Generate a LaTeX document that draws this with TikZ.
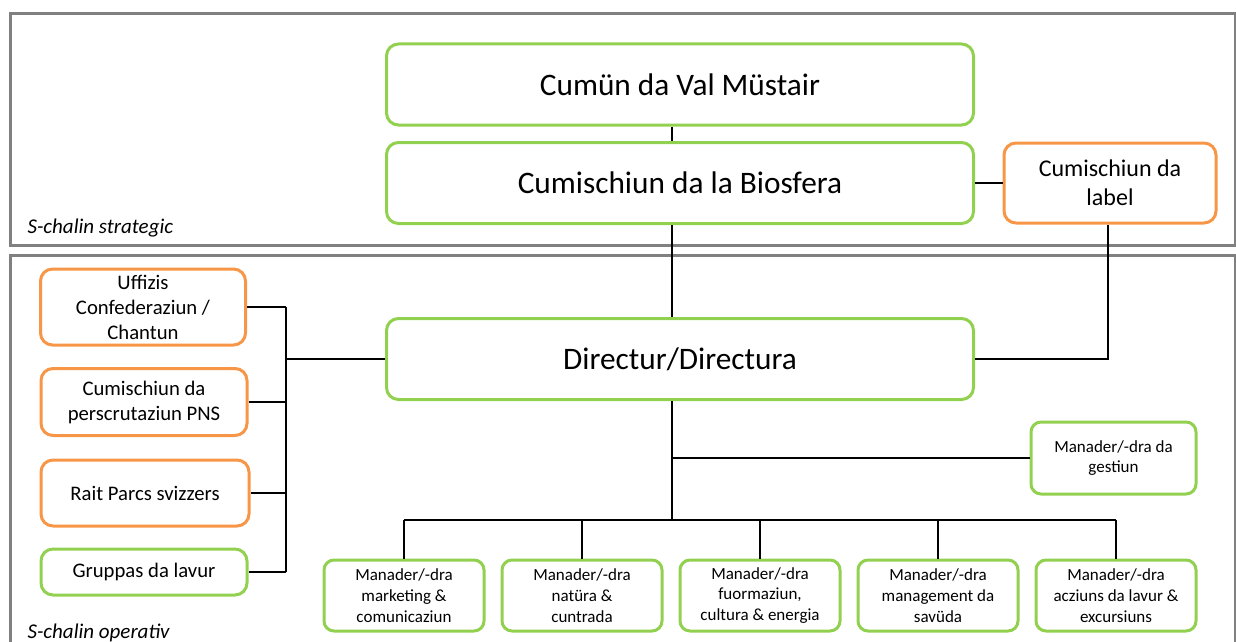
\documentclass[tikz,border=0pt]{standalone}
\usepackage{fontspec}
\setmainfont{Carlito}
\usetikzlibrary{positioning}

\begin{document}
\begin{tikzpicture}[x=1pt,y=-1pt]
    \definecolor{my_green}{HTML}{92D050}
    \definecolor{my_orange}{HTML}{F79646}
    \definecolor{my_grey}{HTML}{808080}
    \tikzstyle{greenbox}=[draw=my_green, line width=3pt, rounded corners=12pt,
                          fill=white, align=center, inner sep=0pt]
    \tikzstyle{orangebox}=[greenbox, draw=my_orange]
    \tikzstyle{bigbox}=[minimum width=587pt, minimum height=81pt,
                        font=\fontsize{31.3}{37}\selectfont]
    \tikzstyle{sidebox}=[font=\fontsize{20.7}{25}\selectfont]
    \tikzstyle{manbox}=[minimum width=160pt, minimum height=71pt,
                        rounded corners=10pt, font=\fontsize{17}{20.7}\selectfont]
    \tikzstyle{link}=[line width=1.6pt, black]
    \tikzstyle{level}=[anchor=base west, font=\fontsize{21}{25}\selectfont\itshape]
    \useasboundingbox (0,0) rectangle (1236,642);
    % frames
    \draw[my_grey, line width=3pt] (10,14) rectangle (1235,245);
    \draw[my_grey, line width=3pt] (10,255) rectangle (1235,700);
    \node[level] (strategic) at (24,233) {S-chalin strategic};
    \node[level] (operativ) at (24,638) {S-chalin operativ};
    % strategic level
    \node[greenbox, bigbox] (cumun) at (680,84.5) {Cumün da Val Müstair};
    \node[greenbox, bigbox] (biosfera) at (680,183) {Cumischiun da la Biosfera};
    \node[orangebox, minimum width=212pt, minimum height=80pt,
          font=\fontsize{24}{29}\selectfont] (label) at (1110,183) {Cumischiun da\\label};
    % operative level
    \node[greenbox, bigbox] (directur) at (680,359) {Directur/Directura};
    \node[orangebox, sidebox, minimum width=205pt, minimum height=76pt] (uffizis) at (143,307) {Uffizis\\Confederaziun /\\Chantun};
    \node[orangebox, sidebox, minimum width=206pt, minimum height=67pt] (perscrut) at (144,402) {Cumischiun da\\perscrutaziun PNS};
    \node[orangebox, sidebox, minimum width=208pt, minimum height=66pt] (rait) at (145,493) {Rait Parcs svizzers};
    \node[greenbox, sidebox, minimum width=206pt, minimum height=46pt] (gruppas) at (144,572) {Gruppas da lavur};
    \node[greenbox, manbox, minimum width=165pt, minimum height=72pt] (gestiun) at (1113.5,458) {Manader/-dra da\\gestiun};
    \node[greenbox, manbox] (marketing) at (404,595.5) {Manader/-dra\\marketing \&\\comunicaziun};
    \node[greenbox, manbox] (natura) at (582,595.5) {Manader/-dra\\natüra \&\\cuntrada};
    \node[greenbox, manbox] (fuormaziun) at (760,595.5) {Manader/-dra\\fuormaziun,\\cultura \& energia};
    \node[greenbox, manbox] (savuda) at (938,595.5) {Manader/-dra\\management da\\savüda};
    \node[greenbox, manbox] (acziuns) at (1116,595.5) {Manader/-dra\\acziuns da lavur \&\\excursiuns};
    % connectors
    \draw[link] ([xshift=-8pt]cumun.south) -- ([xshift=-8pt]biosfera.north);
    \draw[link] ([xshift=-8pt]biosfera.south) -- ([xshift=-8pt]directur.north);
    \draw[link] (biosfera.east) -- (label.west);
    \draw[link] ([xshift=-2pt]label.south) |- (directur.east);
    \coordinate (leftbus) at (286,359);
    \draw[link] (directur.west) -- (leftbus);
    \draw[link] (uffizis.east -| leftbus) -- (gruppas.east -| leftbus);
    \foreach \n in {uffizis, perscrut, rait, gruppas}
        \draw[link] (\n.east) -- (\n.east -| leftbus);
    \coordinate (downbus) at (672,520);
    \draw[link] ([xshift=-8pt]directur.south) -- (downbus);
    \draw[link] (gestiun.west -| downbus) -- (gestiun.west);
    \draw[link] (marketing.north |- downbus) -- (acziuns.north |- downbus);
    \foreach \n in {marketing, natura, fuormaziun, savuda, acziuns}
        \draw[link] (\n.north |- downbus) -- (\n.north);
\end{tikzpicture}
\end{document}
